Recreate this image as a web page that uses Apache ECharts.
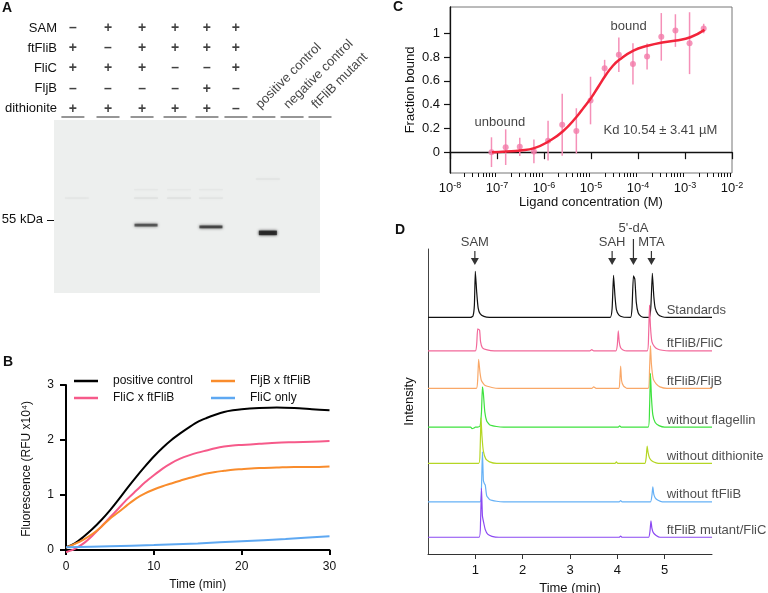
<!DOCTYPE html>
<html><head><meta charset="utf-8">
<script src="https://cdn.jsdelivr.net/npm/echarts@6/dist/echarts.min.js"></script>
<style>html,body{margin:0;padding:0;background:#fff}#c{width:768px;height:593px}</style>
</head><body><div id="c"></div>
<script>
// ================= DATA =================
// ---- Panel A: reaction table + gel ----
const A_ROWS = ['SAM', 'ftFliB', 'FliC', 'FljB', 'dithionite'];
const A_SIGNS = [
  ['–', '+', '+', '+', '+', '+'],
  ['+', '–', '+', '+', '+', '+'],
  ['+', '+', '+', '–', '–', '+'],
  ['–', '–', '–', '–', '+', '–'],
  ['+', '+', '+', '+', '+', '–']
];
const A_CONTROL_LANES = ['positive control', 'negative control', 'ftFliB mutant'];
const A_LANES = [1, 2, 3, 4, 5, 6, 7, 8, 9];
// gel bands: [lane, apparent kDa, relative intensity]
const A_BANDS = [[3, 52.6, 0.7], [5, 51.8, 0.8], [7, 49.1, 1.0]];
const A_FAINT_BANDS = [[1, 64.8, 0.04], [3, 64.8, 0.06], [4, 64.8, 0.06], [5, 64.8, 0.05], [9, 64.8, 0.05],
  [3, 68.6, 0.035], [4, 68.6, 0.03], [5, 68.6, 0.035], [7, 73.4, 0.05]];
const A_MARKER_KDA = [55];

// ---- Panel B: fluorescence time courses [time (min), RFU x1e4] ----
const B_POSITIVE = [[0,0.05],[1,0.12],[2,0.24],[3,0.38],[4,0.54],[5,0.72],[6,0.92],[7,1.13],[8,1.33],[9,1.52],[10,1.70],[11,1.86],[12,2.00],[13,2.12],[14,2.23],[15,2.33],[16,2.40],[17,2.46],[18,2.51],[19,2.54],[20,2.56],[22,2.58],[24,2.59],[26,2.58],[28,2.56],[30,2.54]];
const B_FLIC = [[0,-0.04],[1,0.02],[2,0.12],[3,0.26],[4,0.42],[5,0.59],[6,0.76],[7,0.93],[8,1.08],[9,1.23],[10,1.36],[11,1.48],[12,1.58],[13,1.66],[14,1.72],[15,1.77],[16,1.81],[17,1.85],[18,1.88],[19,1.90],[20,1.91],[22,1.93],[24,1.95],[26,1.96],[28,1.97],[30,1.98]];
const B_FLJB = [[0,0.04],[1,0.11],[2,0.19],[3,0.29],[4,0.42],[5,0.57],[6,0.69],[7,0.82],[8,0.94],[9,1.03],[10,1.10],[11,1.16],[12,1.21],[13,1.26],[14,1.31],[15,1.35],[16,1.39],[17,1.42],[18,1.44],[19,1.46],[20,1.47],[22,1.49],[24,1.50],[26,1.51],[28,1.51],[30,1.52]];
const B_FLIC_ONLY = [[0,0.05],[5,0.07],[10,0.09],[15,0.12],[20,0.16],[25,0.20],[30,0.25]];
const B_NAMES = ['positive control', 'FliC x ftFliB', 'FljB x ftFliB', 'FliC only'];
const B_X_TICKS = [0, 10, 20, 30];
const B_Y_TICKS = [0, 1, 2, 3];

// ---- Panel C: binding curve ----
const C_CONC = [7.63e-8, 1.53e-7, 3.05e-7, 6.1e-7, 1.22e-6, 2.44e-6, 4.88e-6, 9.77e-6, 1.95e-5, 3.91e-5, 7.81e-5, 1.56e-4, 3.13e-4, 6.25e-4, 1.25e-3, 2.5e-3];
const C_FRACTION = [0.00, 0.042, 0.045, 0.006, 0.097, 0.23, 0.179, 0.434, 0.706, 0.818, 0.742, 0.804, 0.969, 1.022, 0.916, 1.039];
const C_ERROR = [0.125, 0.15, 0.077, 0.10, 0.168, 0.26, 0.19, 0.20, 0.07, 0.145, 0.174, 0.11, 0.20, 0.137, 0.26, 0.04];
const C_FIT_CONC = [7.8e-8, 1.55e-7, 3.1e-7, 6.2e-7, 1.24e-6, 2.5e-6, 5.0e-6, 7.1e-6, 1.0e-5, 1.43e-5, 2.0e-5, 2.84e-5, 4.0e-5, 8.0e-5, 1.6e-4, 3.27e-4, 6.5e-4, 1.3e-3, 2.6e-3];
const C_FIT_FRACTION = [0.0, 0.006, 0.014, 0.034, 0.09, 0.174, 0.30, 0.378, 0.454, 0.55, 0.64, 0.72, 0.776, 0.854, 0.894, 0.922, 0.938, 0.966, 1.028];
const C_Y_TICKS = [0, 0.2, 0.4, 0.6, 0.8, 1];
const C_DECADES = [-8, -7, -6, -5, -4, -3, -2];
const C_NOTES = [['unbound', 1.15e-7, 0.246], ['bound', 6.3e-5, 1.06], ['Kd 10.54 ± 3.41 µM', 3.0e-4, 0.187]];

// ---- Panel D: chromatograms [time (min), intensity above own baseline] ----
const D_NAMES = ['Standards', 'ftFliB/FliC', 'ftFliB/FljB', 'without flagellin', 'without dithionite', 'without ftFliB', 'ftFliB mutant/FliC'];
const D_STANDARDS = [[0,0],[0.9,0],[0.95,0.4],[0.98,4],[1.0,15.1],[1.03,8],[1.06,3],[1.1,1.2],[1.18,0.3],[1.3,0],[3.85,0],[3.89,3],[3.92,13.8],[3.95,7],[3.98,2.5],[4.03,0.8],[4.12,0.1],[4.28,0],[4.31,3],[4.34,13.6],[4.37,12.5],[4.40,5],[4.44,1.5],[4.5,0.3],[4.56,0],[4.68,0],[4.71,4],[4.74,14.4],[4.77,7],[4.80,3],[4.86,1],[4.95,0.2],[5.05,0],[6,0]];
const D_FLIC = [[0,0],[1.0,0],[1.03,2.5],[1.05,7.2],[1.09,6.8],[1.11,3],[1.15,1],[1.25,0.3],[1.4,0],[3.42,0],[3.46,0.4],[3.5,0],[3.97,0],[4.0,2],[4.02,6.6],[4.04,3],[4.07,1],[4.12,0.3],[4.2,0],[4.63,0],[4.66,5],[4.68,15],[4.70,8],[4.73,3],[4.78,1.5],[4.85,0.6],[4.95,0.2],[5.1,0],[6,0]];
const D_FLJB = [[0,0],[1.02,0],[1.05,3],[1.07,9.5],[1.1,5],[1.13,2.5],[1.2,1],[1.35,0.3],[1.5,0],[3.46,0],[3.5,0.5],[3.55,0],[4.03,0],[4.05,2],[4.07,7.3],[4.09,2.5],[4.13,0.8],[4.2,0],[4.65,0],[4.68,6],[4.70,14],[4.72,8],[4.76,3],[4.82,1.5],[4.9,0.5],[5.05,0],[6,0]];
const D_NO_FLAGELLIN = [[0,0],[0.9,0],[0.93,-0.5],[0.97,-0.3],[1.0,0],[1.05,0],[1.1,0.3],[1.13,5],[1.15,13.2],[1.17,11],[1.2,5],[1.24,2],[1.3,0.8],[1.45,0.2],[1.6,0],[4.02,0],[4.05,0.4],[4.08,0],[4.65,0],[4.68,6],[4.70,17.6],[4.72,10],[4.75,4],[4.8,1.5],[4.88,0.5],[5.0,0],[6,0]];
const D_NO_DITHIONITE = [[0,0],[1.07,0],[1.1,4],[1.12,14.9],[1.14,9],[1.17,4],[1.22,1.5],[1.3,0.5],[1.45,0],[3.95,0],[3.98,0.5],[4.01,0],[4.58,0],[4.61,2],[4.63,5.7],[4.65,3.5],[4.68,1.8],[4.74,0.7],[4.82,0.2],[4.9,0],[6,0]];
const D_NO_FTFLIB = [[0,0],[1.1,0],[1.13,5],[1.15,16.4],[1.17,7],[1.19,6],[1.21,5.5],[1.24,2],[1.3,0.8],[1.45,0.2],[1.6,0],[4.04,0],[4.07,0.4],[4.1,0],[4.70,0],[4.73,2],[4.75,4.9],[4.77,2.5],[4.8,1.3],[4.86,0.5],[4.95,0],[6,0]];
const D_MUTANT = [[0,0],[1.08,0],[1.11,5],[1.13,16],[1.15,7],[1.18,4.5],[1.21,2.5],[1.26,1],[1.35,0.3],[1.5,0],[4.04,0],[4.07,0.4],[4.1,0],[4.66,0],[4.69,2],[4.71,5.4],[4.73,3],[4.76,1.5],[4.82,0.6],[4.9,0],[6,0]];
const D_PEAK_NAMES = ['SAM', 'SAH', "5'-dA", 'MTA'];
const D_PEAK_TIMES = [0.99, 3.89, 4.34, 4.72];
const D_X_TICKS = [1, 2, 3, 4, 5];

// ================= LAYOUT / STYLE =================
const F = 'Liberation Sans, Arial, Helvetica, sans-serif';
const INK = '#111';
const LANE_POS = [0.71, 2.03, 3.31, 4.55, 5.75, 6.84, 7.89, 8.95, 10.0]; // lane centres on panel-A axis
const GEL_SHIFT = 0.15;
const D_OFFSETS = [77.6, 66.6, 54.3, 41.6, 29.7, 17.1, 5.5];
const D_COLORS = ['#111111', '#f2689a', '#f9a868', '#3ee23e', '#b5d624', '#66b1f6', '#8b48f2'];
const D_TRACES = [D_STANDARDS, D_FLIC, D_FLJB, D_NO_FLAGELLIN, D_NO_DITHIONITE, D_NO_FTFLIB, D_MUTANT];
const D_UNIT_PER_PX = 100 / 305;
const B_COLORS = ['#000000', '#f65a8a', '#f98c2c', '#5ea8f2'];

// ================= BUILD =================
const signData = [];
A_SIGNS.forEach((row, r) => row.forEach((s, c) => signData.push([LANE_POS[c], r, s])));
const underlineData = A_LANES.map(l => [LANE_POS[l - 1], 4.4]);
const controlData = A_CONTROL_LANES.map((n, k) => [LANE_POS[6 + k], 4.05, n]);
const bandData = A_FAINT_BANDS.concat(A_BANDS).map(b => [LANE_POS[b[0] - 1] + GEL_SHIFT, b[1], b[2]]);

const cPoints = C_CONC.map((c, i) => [Math.log10(c), C_FRACTION[i], C_ERROR[i]]);
const cFit = C_FIT_CONC.map((c, i) => [Math.log10(c), C_FIT_FRACTION[i]]);
const cMinor = [];
C_DECADES.slice(0, -1).forEach(d => { for (let k = 2; k <= 9; k++) cMinor.push(d + Math.log10(k)); });

const tipY = 94.75;
const arrowData = D_PEAK_NAMES.map((n, i) => {
  const long = n === "5'-dA";
  const len = long ? 26 : 14;
  const path = long
    ? 'path://M3.4,0 L4.6,0 L4.6,19 L8,19 L4,26 L0,19 L3.4,19 Z'
    : 'path://M3.4,0 L4.6,0 L4.6,7 L8,7 L4,14 L0,7 L3.4,7 Z';
  return {
    value: [D_PEAK_TIMES[i], tipY + (len / 2) * D_UNIT_PER_PX, n],
    symbol: path, symbolSize: [8, len],
    label: { distance: long ? 4 : 2 }
  };
});

const txt = (extra) => Object.assign({ fontFamily: F, color: INK, fontSize: 13 }, extra || {});

const series = [];
// Panel A
series.push({
  type: 'scatter', xAxisIndex: 0, yAxisIndex: 0, data: signData, symbolSize: 1, clip: false,
  itemStyle: { color: 'rgba(0,0,0,0)' },
  label: { show: true, position: 'inside', formatter: p => p.data[2], fontFamily: F, fontSize: 14, fontWeight: 'bold', color: INK }
});
series.push({
  type: 'scatter', xAxisIndex: 0, yAxisIndex: 0, data: underlineData, symbol: 'rect', symbolSize: [23, 1.2], clip: false,
  itemStyle: { color: '#222' }
});
series.push({
  type: 'scatter', xAxisIndex: 0, yAxisIndex: 0, data: controlData, symbolSize: 1, clip: false,
  itemStyle: { color: 'rgba(0,0,0,0)' },
  label: { show: true, position: 'inside', align: 'left', verticalAlign: 'bottom', rotate: 45, offset: [-2, 0],
    formatter: p => p.data[2], fontFamily: F, fontSize: 13, color: INK }
});
series.push({
  type: 'scatter', xAxisIndex: 1, yAxisIndex: 1, data: bandData, symbol: 'rect',
  symbolSize: v => v[2] >= 0.99 ? [18, 4.5] : (v[2] > 0.5 ? [23, 2.8] : [24, 1.5]),
  itemStyle: { color: p => 'rgba(30,30,30,' + p.data[2] + ')', shadowBlur: 3,
    shadowColor: p => 'rgba(50,50,50,' + (p.data[2] * 0.7) + ')' }
});
// Panel B
[B_POSITIVE, B_FLIC, B_FLJB, B_FLIC_ONLY].forEach((d, i) => series.push({
  type: 'line', name: B_NAMES[i], xAxisIndex: 2, yAxisIndex: 2, data: d, showSymbol: false, smooth: 0.3,
  lineStyle: { width: 2, color: B_COLORS[i] }, itemStyle: { color: B_COLORS[i] }
}));
// Panel C
series.push({
  type: 'custom', xAxisIndex: 3, yAxisIndex: 3, data: cPoints, encode: { x: 0, y: 1 },
  renderItem: (params, api) => {
    const x = api.value(0), y = api.value(1), e = api.value(2);
    const p1 = api.coord([x, y - e]), p2 = api.coord([x, y + e]);
    return { type: 'line', shape: { x1: p1[0], y1: p1[1], x2: p2[0], y2: p2[1] }, style: { stroke: '#f590b8', lineWidth: 1.5 } };
  }
});
series.push({
  type: 'scatter', xAxisIndex: 3, yAxisIndex: 3, data: cPoints, symbolSize: 6,
  itemStyle: { color: '#f37aa9' }
});
series.push({
  type: 'line', xAxisIndex: 3, yAxisIndex: 3, data: cFit, showSymbol: false, smooth: true,
  lineStyle: { width: 2.5, color: '#f2243a' }
});
series.push({
  type: 'scatter', xAxisIndex: 3, yAxisIndex: 3, symbolSize: 0, clip: false,
  data: C_NOTES.map(n => [Math.log10(n[1]), n[2], n[0]]),
  label: { show: true, position: 'inside', formatter: p => p.data[2], fontFamily: F, fontSize: 13, color: INK }
});
// Panel D
D_TRACES.forEach((d, i) => series.push({
  type: 'line', xAxisIndex: 5, yAxisIndex: 4, data: d.map(p => [p[0], D_OFFSETS[i] + p[1]]),
  showSymbol: false, smooth: 0.15, clip: false,
  lineStyle: { width: 1.2, color: D_COLORS[i] }
}));
series.push({
  type: 'scatter', xAxisIndex: 5, yAxisIndex: 4, symbolSize: 0, clip: false,
  data: D_NAMES.map((n, i) => [5.0, D_OFFSETS[i] + 2.3, n]),
  label: { show: true, position: 'right', distance: 2, formatter: p => p.data[2], fontFamily: F, fontSize: 13, color: '#222' }
});
series.push({
  type: 'scatter', xAxisIndex: 5, yAxisIndex: 4, data: arrowData, clip: false, symbolKeepAspect: false,
  itemStyle: { color: '#000' },
  label: { show: true, position: 'top', formatter: p => p.data.value[2], fontFamily: F, fontSize: 13, color: INK }
});

const hidden = { axisLine: { show: false }, axisTick: { show: false }, axisLabel: { show: false }, splitLine: { show: false } };
const blackLine = (w) => ({ show: true, lineStyle: { color: '#000', width: w } });

const option = {
  animation: false,
  backgroundColor: '#fff',
  grid: [
    { left: 54, top: 28, width: 266, height: 89, outerBoundsMode: 'none' },
    { left: 54, top: 120, width: 266, height: 173, show: true, backgroundColor: '#edefee', borderWidth: 0, outerBoundsMode: 'none' },
    { left: 66, top: 385, width: 263.5, height: 167.75, outerBoundsMode: 'none' },
    { left: 450, top: 7, width: 282, height: 166, show: true, borderColor: '#777', borderWidth: 1, outerBoundsMode: 'none' },
    { left: 428, top: 249, width: 284, height: 305, outerBoundsMode: 'none' }
  ],
  xAxis: [
    Object.assign({ gridIndex: 0, type: 'value', min: 0, max: 10 }, hidden),
    Object.assign({ gridIndex: 1, type: 'value', min: 0, max: 10 }, hidden),
    { gridIndex: 2, type: 'value', min: 0, max: 30, interval: 10, position: 'bottom',
      name: 'Time (min)', nameLocation: 'middle', nameGap: 26, nameTextStyle: txt({ fontSize: 12 }),
      axisLine: blackLine(2), splitLine: { show: false },
      axisTick: { show: true, length: 5, lineStyle: { color: '#000', width: 2 } },
      axisLabel: txt({ fontSize: 12, margin: 8 }) },
    { gridIndex: 3, type: 'value', min: -8, max: -2, interval: 1, position: 'bottom',
      name: 'Ligand concentration (M)', nameLocation: 'middle', nameGap: 23, nameTextStyle: txt(),
      axisLine: { show: true, lineStyle: { color: '#111', width: 1.3 } }, splitLine: { show: false },
      axisTick: { show: true, length: 7, lineStyle: { color: '#111', width: 1.2 } },
      axisLabel: { margin: 8, formatter: v => '{b|10}{s|' + v + '}',
        rich: { b: { fontFamily: F, fontSize: 13, color: INK, lineHeight: 15 },
                s: { fontFamily: F, fontSize: 9, color: INK, verticalAlign: 'top', lineHeight: 15 } } } },
    { gridIndex: 3, type: 'value', min: -8, max: -2, position: 'bottom',
      axisLine: { show: false }, axisLabel: { show: false }, splitLine: { show: false },
      axisTick: { show: true, customValues: cMinor, length: 4, lineStyle: { color: '#111', width: 1 } } },
    { gridIndex: 4, type: 'value', min: 0, max: 6, position: 'bottom',
      name: 'Time (min)', nameLocation: 'middle', nameGap: 24, nameTextStyle: txt(),
      axisLine: { show: true, lineStyle: { color: '#333', width: 1 } }, splitLine: { show: false },
      axisTick: { show: true, customValues: D_X_TICKS, length: 5, lineStyle: { color: '#333', width: 1 } },
      axisLabel: txt({ customValues: D_X_TICKS, margin: 10 }) }
  ],
  yAxis: [
    { gridIndex: 0, type: 'value', inverse: true, min: 0, max: 4.4, interval: 1,
      axisLine: { show: false }, axisTick: { show: false }, splitLine: { show: false },
      axisLabel: txt({ margin: -3, showMaxLabel: false, formatter: v => A_ROWS[v] || '' }) },
    { gridIndex: 1, type: 'value', min: 22, max: 100,
      axisLine: { show: false }, splitLine: { show: false },
      axisTick: { show: true, customValues: A_MARKER_KDA, length: 7, lineStyle: { color: '#111', width: 1 } },
      axisLabel: txt({ customValues: A_MARKER_KDA, margin: 11, formatter: '{value} kDa' }) },
    { gridIndex: 2, type: 'value', min: -0.05, max: 3,
      name: 'Fluorescence (RFU x10⁴)', nameLocation: 'middle', nameGap: 33, nameTextStyle: txt({ fontSize: 12 }),
      axisLine: blackLine(2), splitLine: { show: false },
      axisTick: { show: true, customValues: B_Y_TICKS, length: 6, lineStyle: { color: '#000', width: 2 } },
      axisLabel: txt({ fontSize: 12, customValues: B_Y_TICKS, margin: 12 }) },
    { gridIndex: 3, type: 'value', min: -0.175, max: 1.22,
      name: 'Fraction bound', nameLocation: 'middle', nameGap: 33, nameTextStyle: txt(),
      axisLine: { show: true, lineStyle: { color: '#111', width: 1.3 } }, splitLine: { show: false },
      axisTick: { show: true, customValues: C_Y_TICKS, length: 6, lineStyle: { color: '#111', width: 1.2 } },
      axisLabel: txt({ customValues: C_Y_TICKS, margin: 10 }) },
    { gridIndex: 4, type: 'value', min: 0, max: 100,
      name: 'Intensity', nameLocation: 'middle', nameGap: 12, nameTextStyle: txt(),
      axisLine: { show: true, lineStyle: { color: '#444', width: 1 } }, axisTick: { show: false },
      axisLabel: { show: false }, splitLine: { show: false } }
  ],
  legend: [
    { left: 74, top: 374, orient: 'vertical', padding: 0, itemGap: 3, itemWidth: 24, itemHeight: 2.5, icon: 'rect',
      selectedMode: false, data: [B_NAMES[0], B_NAMES[1]],
      textStyle: txt({ fontSize: 12, lineHeight: 14, padding: [0, 0, 0, 10] }) },
    { left: 211, top: 374, orient: 'vertical', padding: 0, itemGap: 3, itemWidth: 24, itemHeight: 2.5, icon: 'rect',
      selectedMode: false, data: [B_NAMES[2], B_NAMES[3]],
      textStyle: txt({ fontSize: 12, lineHeight: 14, padding: [0, 0, 0, 10] }) }
  ],
  graphic: [
    { type: 'text', left: 2, top: 1, style: { text: 'A', font: 'bold 14px ' + F, fill: INK } },
    { type: 'text', left: 3, top: 355, style: { text: 'B', font: 'bold 14px ' + F, fill: INK } },
    { type: 'text', left: 393, top: 0, style: { text: 'C', font: 'bold 14px ' + F, fill: INK } },
    { type: 'text', left: 395, top: 223, style: { text: 'D', font: 'bold 14px ' + F, fill: INK } }
  ],
  series: series
};

const chart = echarts.init(document.getElementById('c'), null, { renderer: 'canvas', width: 768, height: 593 });
chart.setOption(option);
</script>
</body></html>
